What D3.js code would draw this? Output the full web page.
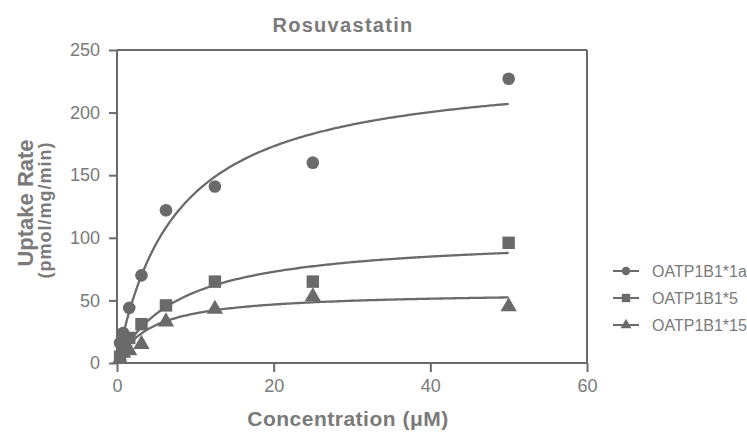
<!DOCTYPE html>
<html><head><meta charset="utf-8">
<script src="https://cdn.jsdelivr.net/npm/d3@7"></script>
<style>body{margin:0;background:#fff}svg{display:block;font-family:"Liberation Sans",Arial,sans-serif}</style>
</head><body><svg id="c" width="747" height="435"></svg>
<script>
const concentrations = [0.39, 0.78, 1.56, 3.125, 6.25, 12.5, 25, 50];
const series1a = [16, 24, 44, 70, 122, 141, 160, 227];
const series5  = [5, 12, 20, 31, 46, 65, 65, 96];
const series15 = [3, 8, 10, 15, 33, 43, 53, 45];
const seriesNames = ["OATP1B1*1a", "OATP1B1*5", "OATP1B1*15"];
// Michaelis–Menten fit parameters (Vmax, Km) for each series
const fitVmax = [238, 102, 57];
const fitKm = [7.5, 8, 4.4];
const xTicks = [0, 20, 40, 60];
const yTicks = [0, 50, 100, 150, 200, 250];

const col = "#6a6a6a", txt = "#7a7a7a";
const svg = d3.select("#c");
const x = d3.scaleLinear().domain([0, 60]).range([117, 587]);
const y = d3.scaleLinear().domain([0, 250]).range([363, 50]);

// frame
svg.append("line").attr("x1", x(0)).attr("x2", x(60)).attr("y1", y(250)).attr("y2", y(250)).attr("stroke", col).attr("stroke-width", 2);
svg.append("line").attr("x1", x(60)).attr("x2", x(60)).attr("y1", y(250)).attr("y2", y(0)).attr("stroke", col).attr("stroke-width", 2);

const xa = svg.append("g").attr("transform", `translate(0,${y(0)})`)
  .call(d3.axisBottom(x).tickValues(xTicks).tickSize(9).tickPadding(7));
const ya = svg.append("g").attr("transform", `translate(${x(0)},0)`)
  .call(d3.axisLeft(y).tickValues(yTicks).tickSize(8).tickPadding(9));
[xa, ya].forEach(a => {
  a.select(".domain").attr("stroke", col).attr("stroke-width", 2);
  a.selectAll(".tick line").attr("stroke", col).attr("stroke-width", 2);
  a.selectAll(".tick text").attr("fill", txt).attr("font-size", 18).attr("font-family", "Liberation Sans, Arial, sans-serif");
});
ya.select(".domain").attr("d", `M0,${y(250)}V${y(0)}`);
xa.select(".domain").attr("d", `M${x(0)},0H${x(60)}`);

// curves
const allSeries = [series1a, series5, series15];
const line = d3.line().x(d => x(d[0])).y(d => y(d[1]));
allSeries.forEach((s, i) => {
  const pts = d3.range(0, 50.01, 0.25).map(c => [c, fitVmax[i] * c / (fitKm[i] + c)]);
  svg.append("path").attr("d", line(pts)).attr("fill", "none").attr("stroke", col).attr("stroke-width", 2.3);
});

const symbols = [d3.symbolCircle, d3.symbolSquare, d3.symbolTriangle];
const sizes = [125, 155, 115];
allSeries.forEach((s, i) => {
  svg.append("g").selectAll("path").data(s).join("path")
    .attr("transform", (d, j) => `translate(${x(concentrations[j])},${y(d)})`)
    .attr("d", d3.symbol().type(symbols[i]).size(sizes[i]))
    .attr("fill", col);
});

// legend
const ly = [271, 298, 325];
seriesNames.forEach((n, i) => {
  const g = svg.append("g").attr("transform", `translate(0,${ly[i]})`);
  g.append("line").attr("x1", 613).attr("x2", 639).attr("stroke", col).attr("stroke-width", 2);
  g.append("path").attr("transform", "translate(626,0)").attr("d", d3.symbol().type(symbols[i]).size(sizes[i] * 0.45)).attr("fill", col);
  g.append("text").attr("x", 652).attr("y", 6).attr("font-size", 16).attr("fill", txt).text(n);
});

// titles
svg.append("text").attr("x", 343).attr("y", 32).attr("text-anchor", "middle").attr("font-size", 20).attr("font-weight", "bold").attr("letter-spacing", 1.3).attr("fill", txt).text("Rosuvastatin");
svg.append("text").attr("x", 348).attr("y", 426).attr("text-anchor", "middle").attr("font-size", 21).attr("font-weight", "bold").attr("letter-spacing", 0.5).attr("fill", txt).text("Concentration (μM)");
svg.append("text").attr("transform", "translate(33,203) rotate(-90)").attr("text-anchor", "middle").attr("font-size", 22).attr("font-weight", "bold").attr("fill", txt).text("Uptake Rate");
svg.append("text").attr("transform", "translate(51,210) rotate(-90)").attr("text-anchor", "middle").attr("font-size", 18).attr("font-weight", "bold").attr("letter-spacing", 1).attr("fill", txt).text("(pmol/mg/min)");
</script></body></html>
